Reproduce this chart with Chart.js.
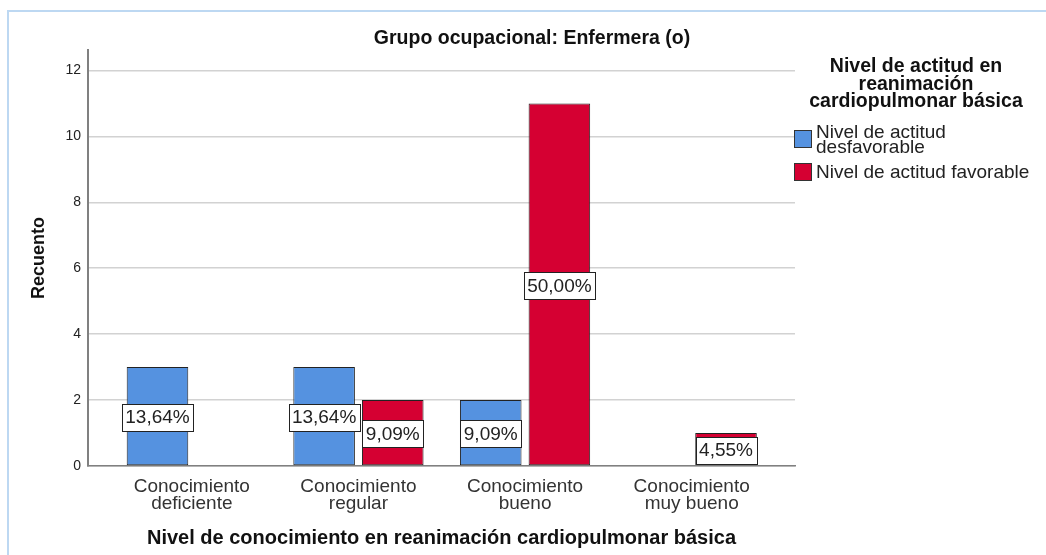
<!DOCTYPE html>
<html lang="es">
<head>
<meta charset="utf-8">
<title>Grupo ocupacional: Enfermera (o)</title>
<script src="https://cdn.jsdelivr.net/npm/chart.js@4.4.1/dist/chart.umd.min.js"></script>
<style>
  html, body { margin: 0; padding: 0; background: #fff; }
  body { width: 1046px; height: 555px; position: relative; overflow: hidden; font-family: "Liberation Sans", Arial, sans-serif; }
  #marco { position: absolute; left: 7px; top: 10px; width: 1100px; height: 600px; border-left: 2px solid #bdd8f2; border-top: 2px solid #bdd8f2; }
  #lienzo { position: absolute; left: 0; top: 0; }
  #titulo { position: absolute; left: 282px; width: 500px; top: 26px; text-align: center; font-weight: bold; font-size: 19.5px; line-height: 22px; color: #111; }
  #leyenda-titulo { position: absolute; left: 801px; width: 230px; top: 57px; text-align: center; font-weight: bold; font-size: 19.5px; line-height: 17.5px; color: #111; }
  #leyenda-items { position: absolute; left: 794px; top: 124px; width: 246px; }
  .item { position: relative; padding-left: 22px; font-size: 19px; line-height: 15px; color: #222; margin-bottom: 10px; }
  .item .caja { position: absolute; left: 0; top: 50%; margin-top: -9px; width: 16px; height: 16px; border: 1px solid #333; }
</style>
</head>
<body>
<div id="marco"></div>
<canvas id="lienzo" width="1046" height="555"></canvas>
<div id="titulo"></div>
<div id="leyenda-titulo"></div>
<div id="leyenda-items"></div>
<script>
// datos
const tituloGrafico = "Grupo ocupacional: Enfermera (o)";
const categorias = [["Conocimiento", "deficiente"], ["Conocimiento", "regular"], ["Conocimiento", "bueno"], ["Conocimiento", "muy bueno"]];
const nombresSeries = ["Nivel de actitud desfavorable", "Nivel de actitud favorable"];
const conteoDesfavorable = [3, 3, 2, 0];
const conteoFavorable = [0, 2, 11, 1];
const pctDesfavorable = ["13,64%", "13,64%", "9,09%", ""];
const pctFavorable = ["", "9,09%", "50,00%", "4,55%"];
const ticksY = [0, 2, 4, 6, 8, 10, 12];
const tituloLeyenda = ["Nivel de actitud en", "reanimación", "cardiopulmonar básica"];
const tituloX = "Nivel de conocimiento en reanimación cardiopulmonar básica";
const tituloY = "Recuento";

const colores = ["#5592e0", "#d50032"];
const fuente = '"Liberation Sans", Arial, sans-serif';

Chart.defaults.font.family = fuente;

// cajas blancas con el porcentaje en el centro de cada barra
const etiquetasPlugin = {
    id: "etiquetas",
    afterDatasetsDraw(chart) {
        const ctx = chart.ctx;
        ctx.save();
        ctx.font = "19px " + fuente;
        ctx.textAlign = "center";
        ctx.textBaseline = "middle";
        chart.data.datasets.forEach((ds, d) => {
            chart.getDatasetMeta(d).data.forEach((barra, i) => {
                const texto = ds.porcentajes[i];
                if (!texto) return;
                const cy = (barra.y + barra.base) / 2 + 1;
                const w = Math.round(ctx.measureText(texto).width + 7);
                const h = 27;
                const x0 = Math.round(barra.x - w / 2) + 0.5;
                const y0 = Math.round(cy - h / 2) + 0.5;
                ctx.fillStyle = "#fff";
                ctx.fillRect(x0, y0, w, h);
                ctx.strokeStyle = "#222";
                ctx.lineWidth = 1;
                ctx.strokeRect(x0, y0, w, h);
                ctx.fillStyle = "#222";
                ctx.fillText(texto, barra.x, cy + 1);
            });
        });
        ctx.restore();
    }
};

const aPuntos = arr => arr.map((v, i) => ({ x: i, y: v }));

new Chart(document.getElementById("lienzo"), {
    type: "bar",
    data: {
        datasets: [
            { label: nombresSeries[0], data: aPuntos(conteoDesfavorable), porcentajes: pctDesfavorable, backgroundColor: colores[0] },
            { label: nombresSeries[1], data: aPuntos(conteoFavorable), porcentajes: pctFavorable, backgroundColor: colores[1] }
        ]
    },
    options: {
        responsive: false,
        animation: false,
        devicePixelRatio: 1,
        layout: { padding: { left: 8, top: 50, right: 251, bottom: 0 } },
        datasets: {
            bar: {
                categoryPercentage: 0.824,
                barPercentage: 0.897,
                borderColor: "#222",
                borderSkipped: false,
                borderWidth: c => (c.raw && c.raw.y > 0 ? 1 : 0)
            }
        },
        plugins: {
            legend: { display: false },
            tooltip: { enabled: false },
            title: { display: false }
        },
        scales: {
            x: {
                type: "linear",
                offset: false,
                min: -0.623,
                max: 3.62,
                afterBuildTicks: axis => { axis.ticks = categorias.map((c, i) => ({ value: i })); },
                afterFit: axis => { axis.height = 89; },
                grid: { display: false, drawTicks: false },
                border: { display: true, color: "#808080", width: 1.5 },
                ticks: {
                    padding: 12,
                    color: "#333",
                    maxRotation: 0,
                    autoSkip: false,
                    font: { size: 19, lineHeight: "17px" },
                    callback: v => categorias[v]
                },
                title: {
                    display: true,
                    text: tituloX,
                    color: "#111",
                    font: { size: 20, weight: "bold" },
                    padding: { top: 0, bottom: 5 }
                }
            },
            y: {
                min: 0,
                max: 12.62,
                afterBuildTicks: axis => { axis.ticks = ticksY.map(v => ({ value: v })); },
                afterFit: axis => { axis.width = 80; },
                grid: { color: "#d2d2d2", lineWidth: 1.5, drawTicks: false },
                border: { display: true, color: "#808080", width: 2 },
                ticks: { padding: 7, color: "#222", font: { size: 14 } },
                title: {
                    display: true,
                    text: tituloY,
                    color: "#111",
                    font: { size: 18, weight: "bold" },
                    padding: { top: 20, bottom: 0 }
                }
            }
        }
    },
    plugins: [etiquetasPlugin]
});

// titulo y leyenda en HTML
document.getElementById("titulo").textContent = tituloGrafico;
document.getElementById("leyenda-titulo").innerHTML = tituloLeyenda.join("<br>");
const items = document.getElementById("leyenda-items");
nombresSeries.forEach((nombre, i) => {
    const fila = document.createElement("div");
    fila.className = "item";
    fila.innerHTML = `<span class="caja" style="background:${colores[i]}"></span>${nombre}`;
    items.appendChild(fila);
});
</script>
</body>
</html>
